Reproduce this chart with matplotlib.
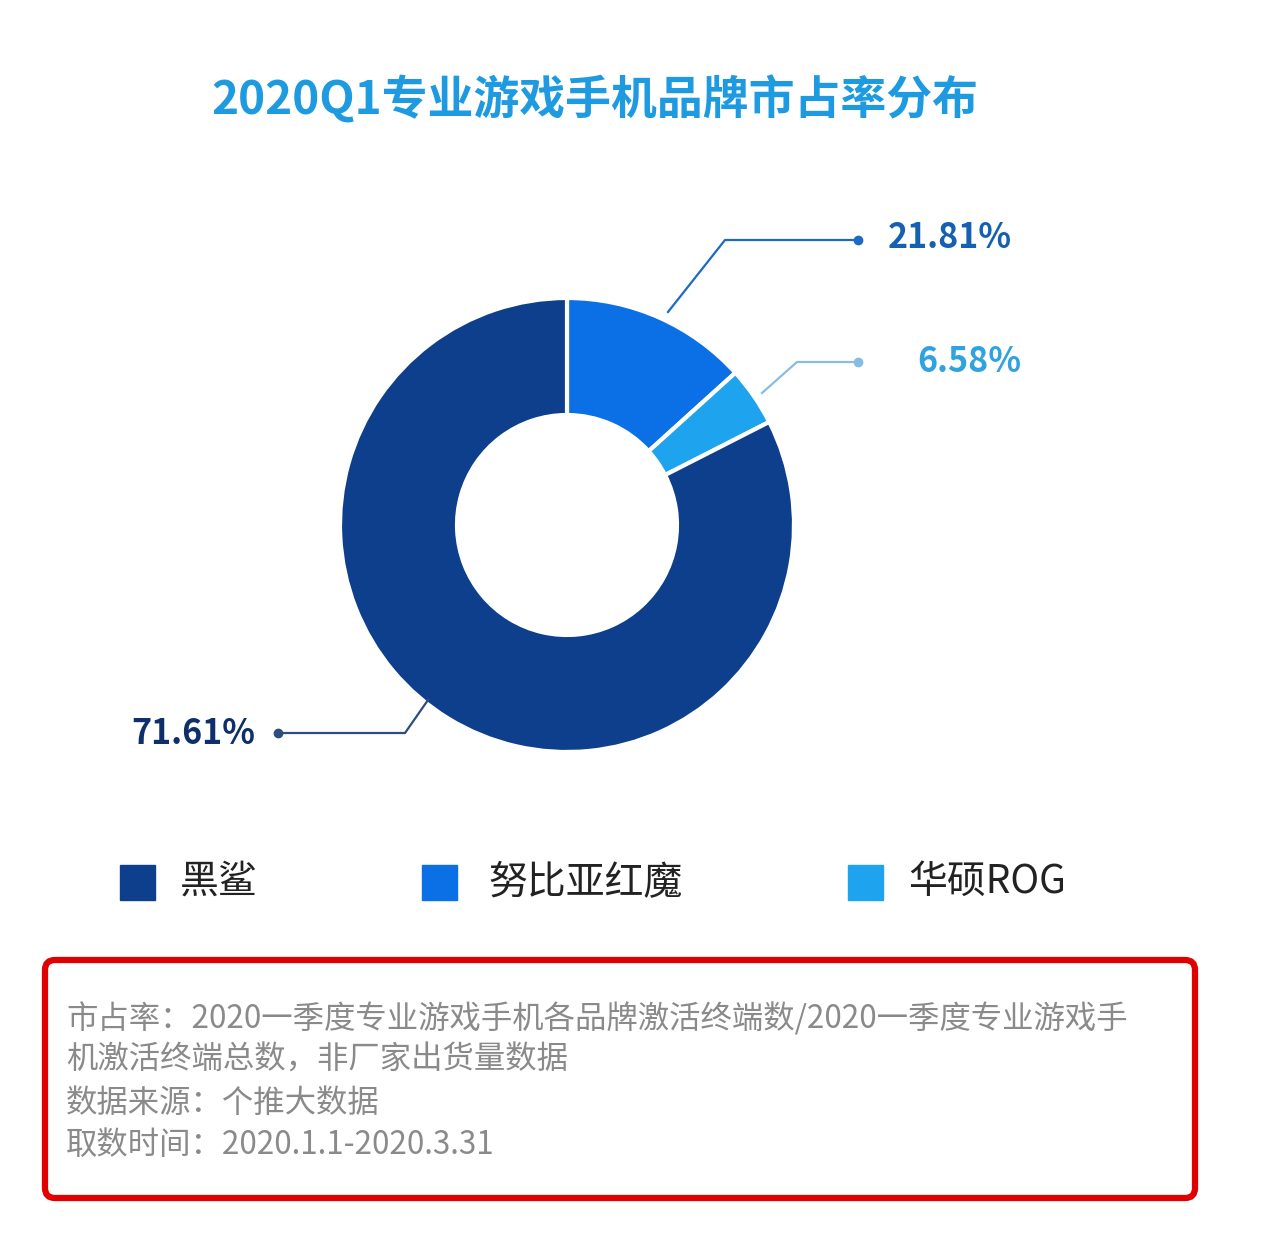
import matplotlib.pyplot as plt
from matplotlib.patches import FancyBboxPatch, Rectangle

plt.rcParams['font.family'] = ['Noto Sans CJK SC', 'DejaVu Sans']

title = '2020Q1专业游戏手机品牌市占率分布'
brands = ['黑鲨', '努比亚红魔', '华硕ROG']
share_labels = ['71.61%', '21.81%', '6.58%']
# wedge sizes as drawn in the picture (they do not follow the printed labels)
drawn_shares = [82.5, 13.3, 4.2]
colors = ['#0E3F8C', '#0B6FE6', '#1EA3EE']
label_colors = ['#0F2F6B', '#1560B0', '#2EA3E0']
line_colors = ['#2B4D80', '#1B6BC2', '#86BEE3']
notes = [
    '市占率：2020一季度专业游戏手机各品牌激活终端数/2020一季度专业游戏手',
    '机激活终端总数，非厂家出货量数据',
    '数据来源：个推大数据',
    '取数时间：2020.1.1-2020.3.31',
]

W, H = 1280, 1240
fig = plt.figure(figsize=(W / 100, H / 100), dpi=100)
ax = fig.add_axes([0, 0, 1, 1])
ax.set_xlim(0, W)
ax.set_ylim(0, H)
ax.set_aspect('equal')
ax.axis('off')


def y(p):
    return H - p


ax.text(595, y(100), title, ha='center', va='center', fontsize=33,
        fontweight='black', color='#1E9BE0')

# clockwise from top: 努比亚红魔, 华硕ROG, 黑鲨
order = [1, 2, 0]
ax.pie([drawn_shares[i] for i in order], colors=[colors[i] for i in order],
       startangle=90, counterclock=False, center=(567, y(525)), radius=227,
       wedgeprops=dict(width=117, edgecolor='white', linewidth=3),
       frame=True)
ax.set_xlim(0, W)
ax.set_ylim(0, H)
ax.axis('off')

# leader lines
leaders = [
    ([428, 405, 278], [700, 733, 733]),
    ([668, 725, 858], [312, 240, 240]),
    ([762, 797, 858], [393, 362, 362]),
]
for i, (xs, ys) in enumerate(leaders):
    ax.plot(xs, [y(v) for v in ys], color=line_colors[i], lw=1.6)
    ax.plot(xs[-1], y(ys[-1]), 'o', color=line_colors[i], ms=6)

ax.text(255, y(733), share_labels[0], ha='right', va='center', fontsize=24.5,
        fontweight='bold', color=label_colors[0])
ax.text(888, y(238), share_labels[1], ha='left', va='center', fontsize=24.5,
        fontweight='bold', color=label_colors[1])
ax.text(917, y(362), share_labels[2], ha='left', va='center', fontsize=24.5,
        fontweight='bold', color=label_colors[2])

# legend
sq_x = [120, 422, 848]
txt_x = [180, 488, 908]
for i, b in enumerate(brands):
    ax.add_patch(Rectangle((sq_x[i], y(900)), 35, 35, color=colors[i]))
    ax.text(txt_x[i], y(882), b, ha='left', va='center', fontsize=28,
            fontweight='medium', color='#222222')

# red note box
ax.add_patch(FancyBboxPatch((45, y(1198)), 1150, 238,
                            boxstyle='round,pad=0,rounding_size=10',
                            fill=False, edgecolor='#E00000', lw=4.5))
note_y = [1019, 1060, 1103, 1145]
for t, ny in zip(notes, note_y):
    ax.text(66, y(ny), t, ha='left', va='center', fontsize=22.6,
            color='#8A8A8A')

fig.savefig('out.png', dpi=100)
